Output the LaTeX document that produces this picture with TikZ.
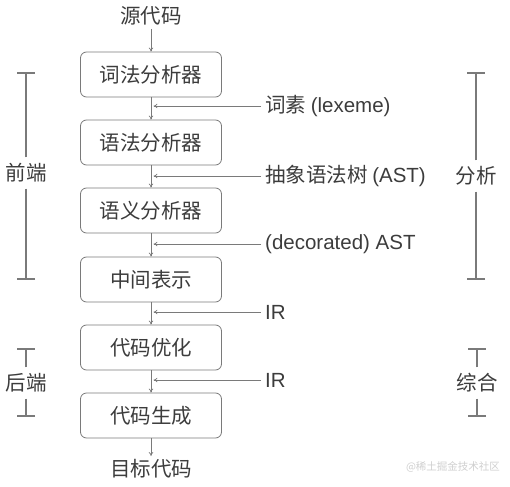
\documentclass[tikz,border=0pt]{standalone}
\usepackage{fontspec}
\setmainfont{Noto Sans CJK SC}
\newfontfamily\latinfont{Liberation Sans}
\usepackage{xcolor}
\usetikzlibrary{arrows.meta,calc}
\definecolor{ink}{HTML}{3C3C3C}
\definecolor{wire}{HTML}{7A7A7A}
\definecolor{mark}{HTML}{CFCFCF}
\newcommand{\lat}[1]{{\latinfont #1}}

\begin{document}
\begin{tikzpicture}[x=1pt,y=-1pt,
stage/.style={draw=wire,line width=0.8pt,rounded corners=6pt,minimum width=141pt,minimum height=45pt,inner sep=0pt},
flow/.style={draw=wire,line width=0.7pt,-{To[length=4pt,width=4.5pt]}},
brace/.style={draw=wire,line width=1.6pt,-{Bar[width=18pt]}},
side/.style={anchor=west,inner sep=4pt}]
\tikzstyle{every node}=[text=ink,font=\fontsize{20.5}{24}\selectfont]
\useasboundingbox (0,0) rectangle (510,486);

% the chain of phases
\node (src) at (151,16) {源代码};
\node (lex) [stage] at (151,74.5) {词法分析器};
\node (syn) [stage] at (151,142.5) {语法分析器};
\node (sem) [stage] at (151,210.5) {语义分析器};
\node (ir) [stage] at (151,279.5) {中间表示};
\node (opt) [stage] at (151,347.5) {代码优化};
\node (gen) [stage] at (151,415.5) {代码生成};
\node (tgt) at (151,469) {目标代码};

\draw[flow] (src) -- (lex);
\draw[flow] (lex) -- (syn);
\draw[flow] (syn) -- (sem);
\draw[flow] (sem) -- (ir);
\draw[flow] (ir) -- (opt);
\draw[flow] (opt) -- (gen);
\draw[flow] (gen) -- (tgt);

% what passes between them
\node (lexeme) [side] at (261,106) {词素 \lat{(lexeme)}};
\node (ast) [side] at (261,176) {抽象语法树 \lat{(AST)}};
\node (dast) [side] at (261,244) {\lat{(decorated) AST}};
\node (ir1) [side] at (261,312) {\lat{IR}};
\node (ir2) [side] at (261,380) {\lat{IR}};
\coordinate (h1) at (153.5,106);
\coordinate (h2) at (153.5,176);
\coordinate (h3) at (153.5,244);
\coordinate (h4) at (153.5,312);
\coordinate (h5) at (153.5,380);
\draw[flow] (lexeme.west) -- (h1);
\draw[flow] (ast.west) -- (h2);
\draw[flow] (dast.west) -- (h3);
\draw[flow] (ir1.west) -- (h4);
\draw[flow] (ir2.west) -- (h5);

% brackets on both sides
\node (front) [inner sep=6pt] at (26,173) {前端};
\node (back) [inner sep=6pt] at (26,383) {后端};
\node (anal) [inner sep=6pt] at (476,176) {分析};
\node (synth) [inner sep=6pt] at (477,383) {综合};
\coordinate (front top) at (26,72);
\coordinate (front bot) at (26,280);
\coordinate (back top) at (26,348);
\coordinate (back bot) at (26,417);
\coordinate (anal top) at (476,72);
\coordinate (anal bot) at (476,280);
\coordinate (synth top) at (477,348);
\coordinate (synth bot) at (477,417);
\draw[brace] (front.north) -- (front top);
\draw[brace] (front.south) -- (front bot);
\draw[brace] (back.north) -- (back top);
\draw[brace] (back.south) -- (back bot);
\draw[brace] (anal.north) -- (anal top);
\draw[brace] (anal.south) -- (anal bot);
\draw[brace] (synth.north) -- (synth top);
\draw[brace] (synth.south) -- (synth bot);

\node (wm) [text=mark,font=\fontsize{10.5}{12}\selectfont] at (453,467) {@稀土掘金技术社区};
\end{tikzpicture}
\end{document}
